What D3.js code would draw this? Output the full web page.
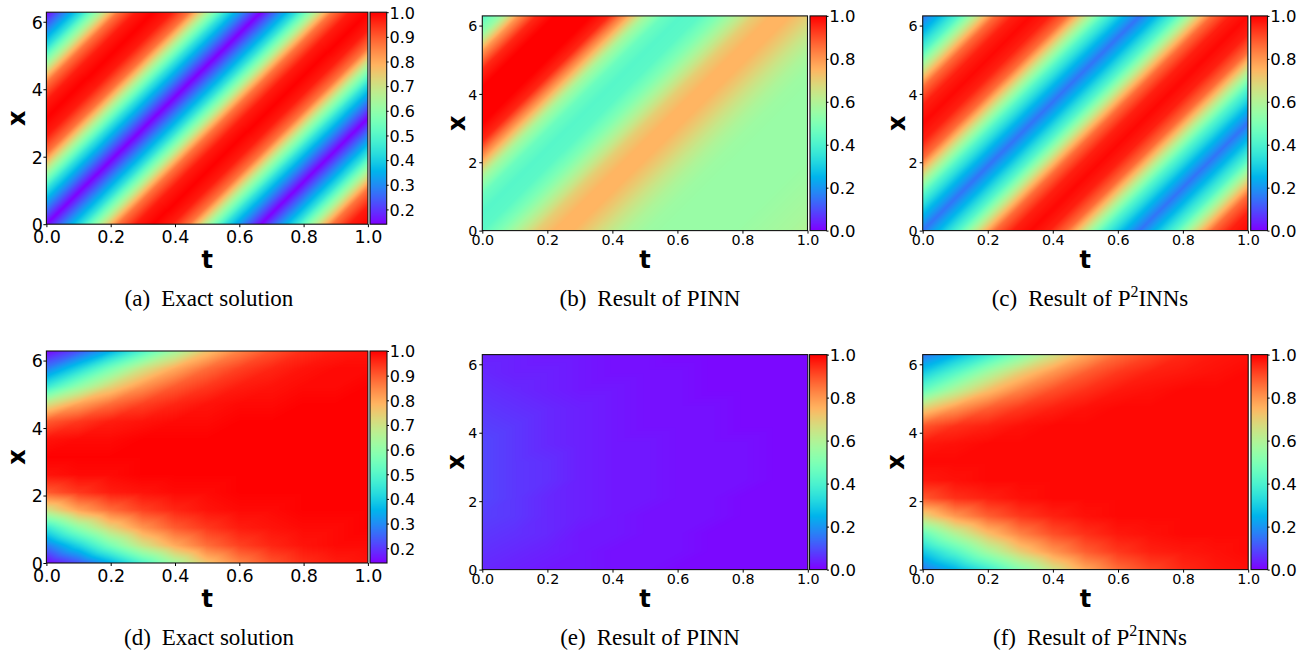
<!DOCTYPE html>
<html>
<head>
<meta charset="utf-8">
<script src="https://cdn.jsdelivr.net/npm/d3@7"></script>
<style>
  body { margin: 0; background: #fff; }
  svg { display: block; }
</style>
</head>
<body>
<div id="fig"></div>
<script>
// grid points: x rows (0..2pi, step pi/6), t columns
const xGrid = [0, 0.524, 1.047, 1.571, 2.094, 2.618, 3.142, 3.665, 4.189, 4.712, 5.236, 5.760, 6.283];
const tFine = [0, 0.056, 0.111, 0.167, 0.222, 0.278, 0.333, 0.389, 0.444, 0.5, 0.556, 0.611, 0.667, 0.722, 0.778, 0.833, 0.889, 0.944, 1];
const tCoarse = [0, 0.1, 0.2, 0.3, 0.4, 0.5, 0.6, 0.7, 0.8, 0.9, 1];

// (a) exact solution, convection; rows = xGrid, cols = tFine
const exactConv = [
  [0.14,0.29,0.44,0.65,0.87,0.97,1.0,0.97,0.87,0.65,0.44,0.29,0.14,0.29,0.44,0.65,0.87,0.97,1.0],
  [0.29,0.14,0.29,0.44,0.65,0.87,0.97,1.0,0.97,0.87,0.65,0.44,0.29,0.14,0.29,0.44,0.65,0.87,0.97],
  [0.44,0.29,0.14,0.29,0.44,0.65,0.87,0.97,1.0,0.97,0.87,0.65,0.44,0.29,0.14,0.29,0.44,0.65,0.87],
  [0.65,0.44,0.29,0.14,0.29,0.44,0.65,0.87,0.97,1.0,0.97,0.87,0.65,0.44,0.29,0.14,0.29,0.44,0.65],
  [0.87,0.65,0.44,0.29,0.14,0.29,0.44,0.65,0.87,0.97,1.0,0.97,0.87,0.65,0.44,0.29,0.14,0.29,0.44],
  [0.97,0.87,0.65,0.44,0.29,0.14,0.29,0.44,0.65,0.87,0.97,1.0,0.97,0.87,0.65,0.44,0.29,0.14,0.29],
  [1.0,0.97,0.87,0.65,0.44,0.29,0.14,0.29,0.44,0.65,0.87,0.97,1.0,0.97,0.87,0.65,0.44,0.29,0.14],
  [0.97,1.0,0.97,0.87,0.65,0.44,0.29,0.14,0.29,0.44,0.65,0.87,0.97,1.0,0.97,0.87,0.65,0.44,0.29],
  [0.87,0.97,1.0,0.97,0.87,0.65,0.44,0.29,0.14,0.29,0.44,0.65,0.87,0.97,1.0,0.97,0.87,0.65,0.44],
  [0.65,0.87,0.97,1.0,0.97,0.87,0.65,0.44,0.29,0.14,0.29,0.44,0.65,0.87,0.97,1.0,0.97,0.87,0.65],
  [0.44,0.65,0.87,0.97,1.0,0.97,0.87,0.65,0.44,0.29,0.14,0.29,0.44,0.65,0.87,0.97,1.0,0.97,0.87],
  [0.29,0.44,0.65,0.87,0.97,1.0,0.97,0.87,0.65,0.44,0.29,0.14,0.29,0.44,0.65,0.87,0.97,1.0,0.97],
  [0.14,0.29,0.44,0.65,0.87,0.97,1.0,0.97,0.87,0.65,0.44,0.29,0.14,0.29,0.44,0.65,0.87,0.97,1.0]
];

// (b) PINN, convection
const pinnConv = [
  [0.43,0.50,0.60,0.70,0.75,0.75,0.70,0.64,0.59,0.56,0.55,0.55,0.55,0.55,0.55,0.56,0.57,0.58,0.60],
  [0.42,0.43,0.50,0.60,0.70,0.75,0.75,0.70,0.64,0.59,0.56,0.55,0.55,0.55,0.55,0.55,0.56,0.57,0.58],
  [0.46,0.42,0.43,0.50,0.60,0.70,0.75,0.75,0.70,0.64,0.59,0.56,0.55,0.55,0.55,0.55,0.55,0.56,0.57],
  [0.58,0.46,0.42,0.43,0.50,0.60,0.70,0.75,0.75,0.70,0.64,0.59,0.56,0.55,0.55,0.55,0.55,0.55,0.56],
  [0.78,0.58,0.46,0.42,0.43,0.50,0.60,0.70,0.75,0.75,0.70,0.64,0.59,0.56,0.55,0.55,0.55,0.55,0.55],
  [0.95,0.78,0.58,0.46,0.42,0.43,0.50,0.60,0.70,0.75,0.75,0.70,0.64,0.59,0.56,0.55,0.55,0.55,0.55],
  [1.0,0.95,0.78,0.58,0.46,0.42,0.43,0.50,0.60,0.70,0.75,0.75,0.70,0.64,0.59,0.56,0.55,0.55,0.55],
  [1.0,1.0,0.95,0.78,0.58,0.46,0.42,0.43,0.50,0.60,0.70,0.75,0.75,0.70,0.64,0.59,0.56,0.55,0.55],
  [1.0,1.0,1.0,0.95,0.78,0.58,0.46,0.42,0.43,0.50,0.60,0.70,0.75,0.75,0.70,0.64,0.59,0.56,0.55],
  [0.95,1.0,1.0,1.0,0.95,0.78,0.58,0.46,0.42,0.43,0.50,0.60,0.70,0.75,0.75,0.70,0.64,0.59,0.56],
  [0.80,0.95,1.0,1.0,1.0,0.95,0.78,0.58,0.46,0.42,0.43,0.50,0.60,0.70,0.75,0.75,0.70,0.64,0.59],
  [0.55,0.80,0.95,1.0,1.0,1.0,0.95,0.78,0.58,0.46,0.42,0.43,0.50,0.60,0.70,0.75,0.75,0.70,0.64],
  [0.42,0.55,0.80,0.95,1.0,1.0,1.0,0.95,0.78,0.58,0.46,0.42,0.43,0.50,0.60,0.70,0.75,0.75,0.70]
];

// (c) P2INNs, convection
const p2innsConv = [
  [0.15,0.27,0.42,0.64,0.86,0.96,0.99,0.96,0.86,0.64,0.42,0.27,0.15,0.27,0.42,0.64,0.86,0.96,0.99],
  [0.27,0.15,0.27,0.42,0.64,0.86,0.96,0.99,0.96,0.86,0.64,0.42,0.27,0.15,0.27,0.42,0.64,0.86,0.96],
  [0.42,0.27,0.15,0.27,0.42,0.64,0.86,0.96,0.99,0.96,0.86,0.64,0.42,0.27,0.15,0.27,0.42,0.64,0.86],
  [0.64,0.42,0.27,0.15,0.27,0.42,0.64,0.86,0.96,0.99,0.96,0.86,0.64,0.42,0.27,0.15,0.27,0.42,0.64],
  [0.86,0.64,0.42,0.27,0.15,0.27,0.42,0.64,0.86,0.96,0.99,0.96,0.86,0.64,0.42,0.27,0.15,0.27,0.42],
  [0.96,0.86,0.64,0.42,0.27,0.15,0.27,0.42,0.64,0.86,0.96,0.99,0.96,0.86,0.64,0.42,0.27,0.15,0.27],
  [0.99,0.96,0.86,0.64,0.42,0.27,0.15,0.27,0.42,0.64,0.86,0.96,0.99,0.96,0.86,0.64,0.42,0.27,0.15],
  [0.96,0.99,0.96,0.86,0.64,0.42,0.27,0.15,0.27,0.42,0.64,0.86,0.96,0.99,0.96,0.86,0.64,0.42,0.27],
  [0.86,0.96,0.99,0.96,0.86,0.64,0.42,0.27,0.15,0.27,0.42,0.64,0.86,0.96,0.99,0.96,0.86,0.64,0.42],
  [0.64,0.86,0.96,0.99,0.96,0.86,0.64,0.42,0.27,0.15,0.27,0.42,0.64,0.86,0.96,0.99,0.96,0.86,0.64],
  [0.42,0.64,0.86,0.96,0.99,0.96,0.86,0.64,0.42,0.27,0.15,0.27,0.42,0.64,0.86,0.96,0.99,0.96,0.86],
  [0.27,0.42,0.64,0.86,0.96,0.99,0.96,0.86,0.64,0.42,0.27,0.15,0.27,0.42,0.64,0.86,0.96,0.99,0.96],
  [0.15,0.27,0.42,0.64,0.86,0.96,0.99,0.96,0.86,0.64,0.42,0.27,0.15,0.27,0.42,0.64,0.86,0.96,0.99]
];

// (d) exact solution, reaction; rows = xGrid, cols = tCoarse
const exactReac = [
  [0.14,0.23,0.35,0.49,0.63,0.76,0.85,0.91,0.95,0.97,0.98],
  [0.28,0.41,0.56,0.70,0.80,0.88,0.93,0.96,0.98,0.99,0.99],
  [0.45,0.60,0.73,0.83,0.90,0.94,0.97,0.98,0.99,0.99,1.0],
  [0.70,0.81,0.88,0.93,0.96,0.98,0.99,0.99,1.0,1.0,1.0],
  [0.90,0.94,0.97,0.98,0.99,0.99,1.0,1.0,1.0,1.0,1.0],
  [0.98,0.99,0.99,1.0,1.0,1.0,1.0,1.0,1.0,1.0,1.0],
  [1.0,1.0,1.0,1.0,1.0,1.0,1.0,1.0,1.0,1.0,1.0],
  [0.98,0.99,0.99,1.0,1.0,1.0,1.0,1.0,1.0,1.0,1.0],
  [0.90,0.94,0.97,0.98,0.99,0.99,1.0,1.0,1.0,1.0,1.0],
  [0.70,0.81,0.88,0.93,0.96,0.98,0.99,0.99,1.0,1.0,1.0],
  [0.45,0.60,0.73,0.83,0.90,0.94,0.97,0.98,0.99,0.99,1.0],
  [0.28,0.41,0.56,0.70,0.80,0.88,0.93,0.96,0.98,0.99,0.99],
  [0.14,0.23,0.35,0.49,0.63,0.76,0.85,0.91,0.95,0.97,0.98]
];

// (e) PINN, reaction
const pinnReac = [
  [0.05,0.04,0.03,0.03,0.02,0.02,0.01,0.01,0.01,0.01,0.01],
  [0.06,0.05,0.04,0.03,0.02,0.02,0.02,0.01,0.01,0.01,0.01],
  [0.07,0.06,0.05,0.03,0.03,0.02,0.02,0.01,0.01,0.01,0.01],
  [0.08,0.07,0.05,0.04,0.03,0.02,0.02,0.02,0.01,0.01,0.01],
  [0.09,0.07,0.05,0.04,0.03,0.03,0.02,0.02,0.01,0.01,0.01],
  [0.09,0.07,0.06,0.04,0.03,0.03,0.02,0.02,0.02,0.01,0.01],
  [0.09,0.07,0.06,0.04,0.03,0.03,0.02,0.02,0.02,0.01,0.01],
  [0.09,0.07,0.05,0.04,0.03,0.03,0.02,0.02,0.02,0.01,0.01],
  [0.08,0.07,0.05,0.04,0.03,0.02,0.02,0.02,0.01,0.01,0.01],
  [0.07,0.06,0.05,0.04,0.03,0.02,0.02,0.02,0.01,0.01,0.01],
  [0.06,0.05,0.04,0.03,0.03,0.02,0.02,0.01,0.01,0.01,0.01],
  [0.05,0.04,0.04,0.03,0.02,0.02,0.02,0.01,0.01,0.01,0.01],
  [0.04,0.04,0.03,0.03,0.02,0.02,0.01,0.01,0.01,0.01,0.01]
];

// (f) P2INNs, reaction
const p2innsReac = [
  [0.15,0.25,0.37,0.51,0.65,0.77,0.86,0.91,0.95,0.97,0.98],
  [0.29,0.42,0.57,0.70,0.80,0.88,0.93,0.96,0.97,0.98,0.99],
  [0.45,0.60,0.73,0.83,0.90,0.94,0.97,0.98,0.99,0.99,0.99],
  [0.69,0.80,0.88,0.93,0.96,0.98,0.99,0.99,0.99,0.99,0.99],
  [0.89,0.94,0.96,0.98,0.99,0.99,0.99,0.99,0.99,0.99,0.99],
  [0.97,0.98,0.99,0.99,0.99,0.99,0.99,0.99,0.99,0.99,0.99],
  [0.99,0.99,0.99,0.99,0.99,0.99,0.99,0.99,0.99,0.99,0.99],
  [0.97,0.98,0.99,0.99,0.99,0.99,0.99,0.99,0.99,0.99,0.99],
  [0.89,0.94,0.96,0.98,0.99,0.99,0.99,0.99,0.99,0.99,0.99],
  [0.69,0.80,0.88,0.93,0.96,0.98,0.99,0.99,0.99,0.99,0.99],
  [0.45,0.60,0.73,0.83,0.90,0.94,0.97,0.98,0.99,0.99,0.99],
  [0.29,0.42,0.57,0.70,0.80,0.88,0.93,0.96,0.97,0.98,0.99],
  [0.15,0.25,0.37,0.51,0.65,0.77,0.86,0.91,0.95,0.97,0.98]
];

const tTicks = [0, 0.2, 0.4, 0.6, 0.8, 1];
const xTicks = [0, 2, 4, 6];
const cbTicksExact = [0.2, 0.3, 0.4, 0.5, 0.6, 0.7, 0.8, 0.9, 1.0];
const cbTicksUnit = [0, 0.2, 0.4, 0.6, 0.8, 1.0];
const captionLabels = ['(a)', '(b)', '(c)', '(d)', '(e)', '(f)'];
const captionTexts = [['Exact solution'], ['Result of PINN'], ['Result of P', '2', 'INNs'],
                      ['Exact solution'], ['Result of PINN'], ['Result of P', '2', 'INNs']];

const SANS = 'DejaVu Sans';
const SERIF = 'Liberation Serif';

// matplotlib "rainbow" colormap
function rainbow(v) {
  const r = Math.min(1, Math.abs(2 * v - 0.5));
  const g = Math.sin(Math.PI * v);
  const b = Math.cos(Math.PI * v / 2);
  return d3.rgb(255 * r, 255 * g, 255 * Math.max(0, b)).toString();
}

const panels = [
  {grid: exactConv, tGrid: tFine, domain: [0.14, 1], cbTicks: cbTicksExact, big: true,
   px: [46.4, 367.9], py: [12.2, 224.2], cb: [370, 386.7], xl: 25, tl: 268, cap: [209, 306]},
  {grid: pinnConv, tGrid: tFine, domain: [0, 1], cbTicks: cbTicksUnit, big: false,
   px: [482.3, 807.5], py: [15.9, 230.6], cb: [810, 826.5], xl: 465, tl: 268, cap: [650, 306]},
  {grid: p2innsConv, tGrid: tFine, domain: [0, 1], cbTicks: cbTicksUnit, big: false,
   px: [922.7, 1247.9], py: [15.9, 230.6], cb: [1250.7, 1267.5], xl: 905, tl: 268, cap: [1090, 306]},
  {grid: exactReac, tGrid: tCoarse, domain: [0.14, 1], cbTicks: cbTicksExact, big: true,
   px: [46.4, 367.9], py: [351, 563], cb: [370, 387], xl: 25, tl: 607, cap: [209, 645]},
  {grid: pinnReac, tGrid: tCoarse, domain: [0, 1], cbTicks: cbTicksUnit, big: false,
   px: [482.3, 807.8], py: [354.6, 569.6], cb: [809.5, 827], xl: 464, tl: 607, cap: [650, 645]},
  {grid: p2innsReac, tGrid: tCoarse, domain: [0, 1], cbTicks: cbTicksUnit, big: false,
   px: [922.7, 1248.2], py: [354.6, 569.6], cb: [1251, 1267.7], xl: 904, tl: 607, cap: [1090, 645]}
];

const svg = d3.select('#fig').append('svg')
    .attr('width', 1307)
    .attr('height', 656);

// each grid cell is split into two triangles along the (x+1, t+1) diagonal,
// shaded linearly inside each triangle (like a gouraud mesh)
function sample(grid, fk, fi) {
  const nX = grid.length, nT = grid[0].length;
  const k = Math.min(Math.floor(fk), nX - 2), i = Math.min(Math.floor(fi), nT - 2);
  const b = fk - k, a = fi - i;
  const v00 = grid[k][i], v10 = grid[k][i + 1], v01 = grid[k + 1][i], v11 = grid[k + 1][i + 1];
  return a >= b ? v00 + a * (v10 - v00) + b * (v11 - v10)
                : v00 + b * (v01 - v00) + a * (v11 - v01);
}

function fieldImage(p, tScale, xScale, lut) {
  const w = Math.round(p.px[1] - p.px[0]), h = Math.round(p.py[1] - p.py[0]);
  const tIdx = d3.scaleLinear().domain(p.tGrid).range(d3.range(p.tGrid.length)).clamp(true);
  const xIdx = d3.scaleLinear().domain(xGrid).range(d3.range(xGrid.length)).clamp(true);
  const canvas = document.createElement('canvas');
  canvas.width = w; canvas.height = h;
  const ctx = canvas.getContext('2d');
  const img = ctx.createImageData(w, h);
  for (let j = 0; j < h; j++) {
    const fk = xIdx(xScale.invert(p.py[0] + (j + 0.5) * (p.py[1] - p.py[0]) / h));
    for (let i = 0; i < w; i++) {
      const fi = tIdx(tScale.invert(p.px[0] + (i + 0.5) * (p.px[1] - p.px[0]) / w));
      const c = lut(sample(p.grid, fk, fi)), o = 4 * (j * w + i);
      img.data[o] = c.r; img.data[o + 1] = c.g; img.data[o + 2] = c.b; img.data[o + 3] = 255;
    }
  }
  ctx.putImageData(img, 0, 0);
  return canvas.toDataURL();
}

function barImage(p, color) {
  const h = Math.round(p.py[1] - p.py[0]);
  const canvas = document.createElement('canvas');
  canvas.width = 1; canvas.height = h;
  const ctx = canvas.getContext('2d');
  const s = d3.scaleLinear().domain([0, h]).range([p.domain[1], p.domain[0]]);
  for (let j = 0; j < h; j++) {
    ctx.fillStyle = color(s(j + 0.5));
    ctx.fillRect(0, j, 1, 1);
  }
  return canvas.toDataURL();
}

function styleAxis(sel, size) {
  sel.attr('font-family', null).attr('font-size', null);
  sel.select('.domain').remove();
  sel.selectAll('line').attr('stroke', '#000');
  sel.selectAll('text')
      .attr('font-family', SANS)
      .attr('font-size', size)
      .attr('fill', '#000')
      .attr('dy', '0.364em');
}

panels.forEach((p, n) => {
  const g = svg.append('g');
  const tScale = d3.scaleLinear().domain([0, 1]).range(p.px);
  const xScale = d3.scaleLinear().domain([0, 2 * Math.PI]).range([p.py[1], p.py[0]]);
  const color = d3.scaleSequential(rainbow).domain(p.domain).clamp(true);
  const lutColors = d3.range(512).map(i => d3.rgb(color(p.domain[0] + (p.domain[1] - p.domain[0]) * i / 511)));
  const lut = v => lutColors[Math.max(0, Math.min(511, Math.round((v - p.domain[0]) / (p.domain[1] - p.domain[0]) * 511)))];

  g.append('image')
      .attr('x', p.px[0]).attr('y', p.py[0])
      .attr('width', p.px[1] - p.px[0]).attr('height', p.py[1] - p.py[0])
      .attr('preserveAspectRatio', 'none')
      .attr('href', fieldImage(p, tScale, xScale, lut));
  g.append('rect')
      .attr('x', p.px[0]).attr('y', p.py[0])
      .attr('width', p.px[1] - p.px[0]).attr('height', p.py[1] - p.py[0])
      .attr('fill', 'none').attr('stroke', '#111').attr('stroke-width', 1.1);

  const tickFont = p.big ? 17.5 : 14.3;
  const xAxis = g.append('g')
      .attr('transform', `translate(0,${p.py[1]})`)
      .call(d3.axisBottom(tScale).tickValues(tTicks).tickSize(3).tickFormat(d3.format('.1f')));
  styleAxis(xAxis, tickFont);
  xAxis.selectAll('text').attr('y', p.big ? 12.8 : 8.8);

  const yAxis = g.append('g')
      .attr('transform', `translate(${p.px[0]},0)`)
      .call(d3.axisLeft(xScale).tickValues(xTicks).tickSize(3).tickPadding(p.big ? 0.5 : 2).tickFormat(d3.format('d')));
  styleAxis(yAxis, tickFont);

  g.append('text')
      .attr('x', (p.px[0] + p.px[1]) / 2).attr('y', p.tl)
      .attr('text-anchor', 'middle')
      .attr('font-family', SANS).attr('font-size', 24).attr('font-weight', 'bold')
      .text('t');
  g.append('text')
      .attr('transform', `translate(${p.xl},${(p.py[0] + p.py[1]) / 2}) rotate(-90)`)
      .attr('text-anchor', 'middle')
      .attr('font-family', SANS).attr('font-size', 24).attr('font-weight', 'bold')
      .text('x');

  // colorbar
  const cbScale = d3.scaleLinear().domain(p.domain).range([p.py[1], p.py[0]]);
  g.append('image')
      .attr('x', p.cb[0]).attr('y', p.py[0])
      .attr('width', p.cb[1] - p.cb[0]).attr('height', p.py[1] - p.py[0])
      .attr('preserveAspectRatio', 'none')
      .attr('href', barImage(p, color));
  g.append('rect')
      .attr('x', p.cb[0]).attr('y', p.py[0])
      .attr('width', p.cb[1] - p.cb[0]).attr('height', p.py[1] - p.py[0])
      .attr('fill', 'none').attr('stroke', '#111').attr('stroke-width', 1.1);
  const cbAxis = g.append('g')
      .attr('transform', `translate(${p.cb[1]},0)`)
      .call(d3.axisRight(cbScale).tickValues(p.cbTicks).tickSize(2).tickPadding(0.8).tickFormat(d3.format('.1f')));
  styleAxis(cbAxis, p.big ? 16 : 16.5);

  // caption
  const cap = g.append('text')
      .attr('x', p.cap[0]).attr('y', p.cap[1])
      .attr('text-anchor', 'middle')
      .attr('font-family', SERIF)
      .attr('font-size', 23)
      .attr('fill', '#000');
  cap.append('tspan').text(captionLabels[n]);
  captionTexts[n].forEach((s, i) => {
    const ts = cap.append('tspan').text(s);
    if (i === 0) ts.attr('dx', 11);
    if (i === 1) ts.attr('dy', -9).attr('font-size', 16);
    if (i === 2) ts.attr('dy', 9);
  });
});
</script>
</body>
</html>
